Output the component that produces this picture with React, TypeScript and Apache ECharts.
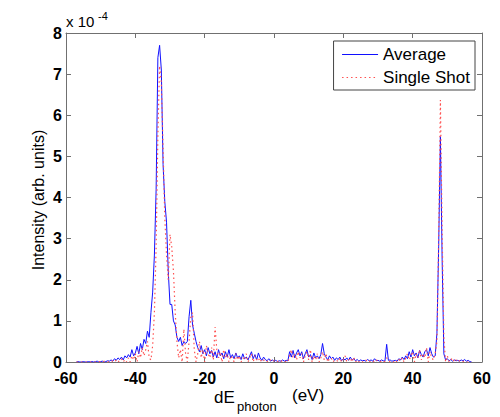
import React, { useEffect, useRef } from "react";
import * as echarts from "echarts";

// Sampling grid of the spectra (eV)
const X_START = -57;
const X_STEP = 0.5;

// Average spectrum, intensity in units of 1e-4 (one row = 5 eV)
const averageValues: number[] = [
  0.00, 0.01, 0.00, 0.00, 0.01, 0.00, 0.00, 0.01, 0.00, 0.01, // -57 .. -52.5
  0.00, 0.01, 0.02, 0.00, 0.01, 0.02, 0.00, 0.01, 0.03, 0.02, // -52 .. -47.5
  0.05, 0.02, 0.08, 0.04, 0.10, 0.06, 0.12, 0.05, 0.15, 0.10, // -47 .. -42.5
  0.18, 0.12, 0.30, 0.15, 0.22, 0.38, 0.20, 0.45, 0.30, 0.55, // -42 .. -37.5
  0.45, 0.75, 0.60, 1.20, 1.70, 2.60, 4.20, 7.40, 7.70, 7.10, // -37 .. -32.5
  4.80, 3.90, 3.40, 2.20, 1.40, 1.40, 1.00, 0.90, 0.60, 0.50, // -32 .. -27.5
  0.60, 0.40, 0.50, 0.45, 0.50, 1.10, 1.50, 0.90, 0.70, 0.50, // -27 .. -22.5
  0.35, 0.25, 0.40, 0.20, 0.30, 0.15, 0.35, 0.20, 0.28, 0.12, // -22 .. -17.5
  0.25, 0.10, 0.30, 0.15, 0.22, 0.08, 0.25, 0.12, 0.30, 0.10, // -17 .. -12.5
  0.18, 0.08, 0.22, 0.10, 0.15, 0.06, 0.20, 0.08, 0.12, 0.05, // -12 .. -7.5
  0.15, 0.25, 0.08, 0.18, 0.05, 0.22, 0.10, 0.04, 0.12, 0.06, // -7 .. -2.5
  0.03, 0.08, 0.02, 0.05, 0.02, 0.04, 0.01, 0.03, 0.02, 0.05, // -2 .. 2.5
  0.02, 0.04, 0.03, 0.25, 0.12, 0.28, 0.10, 0.22, 0.30, 0.15, // 3 .. 7.5
  0.25, 0.08, 0.20, 0.30, 0.12, 0.18, 0.06, 0.22, 0.10, 0.15, // 8 .. 12.5
  0.08, 0.18, 0.45, 0.20, 0.12, 0.05, 0.15, 0.08, 0.12, 0.04, // 13 .. 17.5
  0.10, 0.06, 0.12, 0.03, 0.08, 0.05, 0.10, 0.04, 0.12, 0.05, // 18 .. 22.5
  0.08, 0.03, 0.06, 0.02, 0.05, 0.03, 0.04, 0.02, 0.06, 0.03, // 23 .. 27.5
  0.05, 0.02, 0.08, 0.03, 0.04, 0.02, 0.05, 0.03, 0.02, 0.43, // 28 .. 32.5
  0.04, 0.05, 0.02, 0.03, 0.04, 0.02, 0.08, 0.05, 0.12, 0.06, // 33 .. 37.5
  0.15, 0.08, 0.25, 0.12, 0.30, 0.15, 0.22, 0.10, 0.28, 0.18, // 38 .. 42.5
  0.12, 0.25, 0.30, 0.15, 0.35, 0.20, 0.12, 0.15, 0.70, 2.80, // 43 .. 47.5
  5.48, 2.50, 0.20, 0.05, 0.08, 0.03, 0.06, 0.02, 0.05, 0.03, // 48 .. 52.5
  0.04, 0.02, 0.05, 0.03, 0.06, 0.02, 0.04, 0.01, 0.00,       // 53 .. 57
];

// Single-shot spectrum, intensity in units of 1e-4
const singleShotValues: number[] = [
  0.00, 0.00, 0.00, 0.00, 0.00, 0.00, 0.00, 0.00, 0.00, 0.00,
  0.00, 0.00, 0.00, 0.01, 0.00, 0.00, 0.02, 0.00, 0.00, 0.01,
  0.00, 0.03, 0.00, 0.05, 0.00, 0.04, 0.08, 0.00, 0.06, 0.00,
  0.10, 0.00, 0.15, 0.05, 0.20, 0.00, 0.25, 0.10, 0.35, 0.15,
  0.30, 0.50, 0.10, 0.05, 0.40, 1.20, 2.80, 5.50, 7.20, 6.80,
  5.20, 3.50, 2.60, 2.00, 3.10, 2.80, 2.20, 1.20, 0.50, 0.10,
  0.30, 0.00, 0.80, 0.20, 0.00, 0.50, 1.10, 1.20, 0.30, 0.00,
  0.20, 0.50, 0.10, 0.30, 0.00, 0.40, 0.20, 0.10, 0.35, 0.05,
  0.85, 0.30, 0.10, 0.25, 0.00, 0.30, 0.10, 0.20, 0.00, 0.15,
  0.10, 0.00, 0.20, 0.05, 0.15, 0.00, 0.10, 0.05, 0.20, 0.00,
  0.10, 0.20, 0.00, 0.15, 0.05, 0.10, 0.00, 0.08, 0.05, 0.00,
  0.02, 0.00, 0.05, 0.00, 0.03, 0.00, 0.02, 0.00, 0.03, 0.00,
  0.00, 0.02, 0.00, 0.15, 0.30, 0.10, 0.20, 0.05, 0.25, 0.10,
  0.20, 0.00, 0.15, 0.25, 0.05, 0.30, 0.00, 0.15, 0.05, 0.20,
  0.00, 0.10, 0.25, 0.05, 0.20, 0.00, 0.08, 0.10, 0.00, 0.05,
  0.05, 0.00, 0.10, 0.00, 0.06, 0.15, 0.00, 0.05, 0.10, 0.00,
  0.12, 0.00, 0.05, 0.00, 0.03, 0.00, 0.02, 0.05, 0.00, 0.02,
  0.00, 0.03, 0.00, 0.05, 0.02, 0.00, 0.03, 0.00, 0.02, 0.10,
  0.05, 0.00, 0.02, 0.00, 0.05, 0.00, 0.06, 0.02, 0.10, 0.00,
  0.10, 0.20, 0.05, 0.15, 0.25, 0.00, 0.20, 0.10, 0.30, 0.05,
  0.20, 0.10, 0.35, 0.00, 0.25, 0.10, 0.05, 0.20, 0.50, 3.00,
  6.37, 3.20, 0.60, 0.00, 0.15, 0.00, 0.05, 0.10, 0.00, 0.05,
  0.00, 0.03, 0.00, 0.02, 0.00, 0.00, 0.00, 0.00, 0.00,
];

const seriesNames = ["Average", "Single Shot"];
const xTicks = { min: -60, max: 60, interval: 20 };
const yTicks = { min: 0, max: 8, interval: 1 };

const FONT = "Liberation Sans, Arial, Helvetica, sans-serif";

function toPairs(values: number[]): [number, number][] {
  return values.map((v, i) => [X_START + i * X_STEP, v]);
}

export default function App() {
  const ref = useRef<HTMLDivElement>(null);

  useEffect(() => {
    document.body.style.margin = "0";
    if (!ref.current) return;
    const chart = echarts.init(ref.current, undefined, { renderer: "svg" });
    const axisColor = "#707070";
    const tickLabel = {
      color: "#000",
      fontSize: 16,
      fontWeight: "bold" as const,
      fontFamily: FONT,
    };
    const frameAxis = {
      axisLine: { show: true, onZero: false, lineStyle: { color: axisColor } },
      axisTick: { show: true, inside: true, length: 5, lineStyle: { color: axisColor } },
      splitLine: { show: false },
    };
    chart.setOption({
      animation: false,
      backgroundColor: "#fff",
      grid: { left: 66, right: 18, top: 33, bottom: 55, containLabel: false },
      legend: {
        orient: "vertical",
        right: 25,
        top: 41,
        padding: [5, 5, 4, 8],
        itemWidth: 36,
        itemHeight: 12,
        itemGap: 6,
        borderColor: "#444",
        borderWidth: 1,
        backgroundColor: "#fff",
        itemStyle: { opacity: 0 },
        lineStyle: { width: 1 },
        textStyle: { color: "#000", fontSize: 17, fontFamily: FONT },
        data: seriesNames,
      },
      xAxis: [
        {
          type: "value",
          min: xTicks.min,
          max: xTicks.max,
          interval: xTicks.interval,
          position: "bottom",
          ...frameAxis,
          axisLabel: { ...tickLabel, margin: 8 },
        },
        {
          type: "value",
          min: xTicks.min,
          max: xTicks.max,
          interval: xTicks.interval,
          position: "top",
          ...frameAxis,
          axisLabel: { show: false },
        },
      ],
      yAxis: [
        {
          type: "value",
          min: yTicks.min,
          max: yTicks.max,
          interval: yTicks.interval,
          position: "left",
          ...frameAxis,
          axisLabel: { ...tickLabel, margin: 4 },
        },
        {
          type: "value",
          min: yTicks.min,
          max: yTicks.max,
          interval: yTicks.interval,
          position: "right",
          ...frameAxis,
          axisLabel: { show: false },
        },
      ],
      series: [
        {
          name: seriesNames[0],
          type: "line",
          xAxisIndex: 0,
          yAxisIndex: 0,
          data: toPairs(averageValues),
          showSymbol: false,
          symbol: "none",
          lineStyle: { color: "#1010ff", width: 1 },
          itemStyle: { color: "#1010ff" },
        },
        {
          name: seriesNames[1],
          type: "line",
          xAxisIndex: 0,
          yAxisIndex: 0,
          data: toPairs(singleShotValues),
          showSymbol: false,
          symbol: "none",
          lineStyle: { color: "#ff5050", width: 1.2, type: [1.5, 3] },
          itemStyle: { color: "#ff5050" },
        },
      ],
      graphic: [
        {
          type: "text",
          x: 66,
          y: 29,
          style: {
            text: "x 10",
            fontSize: 15,
            fontFamily: FONT,
            fill: "#000",
            verticalAlign: "bottom",
          },
        },
        {
          type: "text",
          x: 98,
          y: 21,
          style: {
            text: "-4",
            fontSize: 11,
            fontFamily: FONT,
            fill: "#000",
            verticalAlign: "bottom",
          },
        },
        {
          type: "text",
          x: 38,
          y: 200,
          rotation: Math.PI / 2,
          style: {
            text: "Intensity (arb. units)",
            fontSize: 16,
            fontFamily: FONT,
            fill: "#000",
            align: "center",
            verticalAlign: "middle",
          },
        },
        {
          type: "text",
          x: 214,
          y: 406,
          style: {
            text: "dE",
            fontSize: 17,
            fontFamily: FONT,
            fill: "#000",
            verticalAlign: "bottom",
          },
        },
        {
          type: "text",
          x: 237,
          y: 413,
          style: {
            text: "photon",
            fontSize: 13,
            fontFamily: FONT,
            fill: "#000",
            verticalAlign: "bottom",
          },
        },
        {
          type: "text",
          x: 292,
          y: 404,
          style: {
            text: "(eV)",
            fontSize: 17,
            fontFamily: FONT,
            fill: "#000",
            verticalAlign: "bottom",
          },
        },
      ],
    });
    return () => chart.dispose();
  }, []);

  return <div ref={ref} style={{ width: 500, height: 417 }} />;
}
